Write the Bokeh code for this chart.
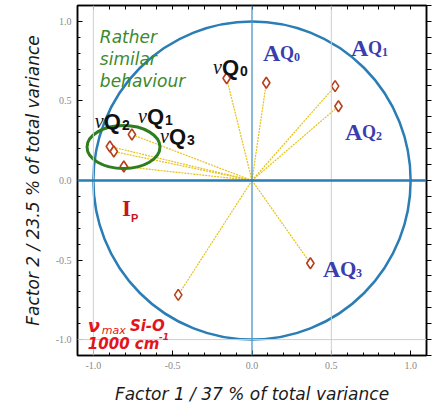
from bokeh.plotting import figure
from bokeh.models import (Range1d, LinearAxis, FixedTicker, Span, Label, ColumnDataSource,
                          PrintfTickFormatter)
from bokeh.embed import file_html
from bokeh.resources import INLINE

# ---- data ----
var_names = ["νQ1", "νQ2", "νQ2'", "νQ3", "νQ0", "AQ0", "AQ1", "AQ2", "AQ3", "νmax Si-O"]
factor1 = [-0.757, -0.896, -0.871, -0.808, -0.160, 0.090, 0.524, 0.545, 0.368, -0.465]
factor2 = [0.289, 0.214, 0.182, 0.088, 0.643, 0.614, 0.593, 0.467, -0.520, -0.719]
major_ticks = [-1.0, -0.5, 0.0, 0.5, 1.0]
minor_ticks = [round(-1.1 + 0.1 * i, 2) for i in range(23)]
x_title = "Factor 1 / 37 % of total variance"
y_title = "Factor 2 / 23.5 % of total variance"

src = ColumnDataSource(dict(name=var_names, f1=factor1, f2=factor2))

p = figure(width=432, height=412,
           x_range=Range1d(-1.10, 1.10), y_range=Range1d(-1.10, 1.10),
           output_backend="svg", toolbar_location=None,
           min_border_left=77, min_border_right=6, min_border_top=5, min_border_bottom=57)
p.grid.visible = False
p.outline_line_color = "black"
p.outline_line_width = 1.5
p.background_fill_color = "white"

def style_axis(ax, tick_in, tick_out):
    ax.axis_line_color = "black"
    ax.axis_line_width = 1.5
    ax.major_tick_in = tick_in
    ax.major_tick_out = tick_out
    ax.minor_tick_in = 3 if tick_in else 0
    ax.minor_tick_out = 0 if tick_in else 3
    ax.major_tick_line_color = "black"
    ax.minor_tick_line_color = "black"

for ax in (p.xaxis[0], p.yaxis[0]):
    ax.ticker = FixedTicker(ticks=major_ticks, minor_ticks=minor_ticks)
    ax.formatter = PrintfTickFormatter(format="%.1f")
    style_axis(ax, 5, 0)
    ax.major_label_text_font = "Liberation Serif"
    ax.major_label_text_font_size = "10px"
    ax.major_label_text_color = "#8a8a8a"
    ax.major_label_standoff = 6
    ax.axis_label_text_font = "DejaVu Sans"
    ax.axis_label_text_font_style = "italic"
    ax.axis_label_text_font_size = "17px"
    ax.axis_label_text_color = "#1a1a1a"
p.xaxis[0].axis_label = x_title
p.yaxis[0].axis_label = y_title
p.xaxis[0].axis_label_standoff = 12
p.yaxis[0].axis_label_standoff = 10

# top and right frame ticks (no labels)
top = LinearAxis(ticker=FixedTicker(ticks=[], minor_ticks=minor_ticks))
style_axis(top, 4, 0)
top.minor_tick_in = 4
p.add_layout(top, "above")
right = LinearAxis(ticker=FixedTicker(ticks=[], minor_ticks=minor_ticks))
style_axis(right, 0, 5)
right.minor_tick_out = 5
p.add_layout(right, "right")

# reference lines
for loc in (-1.0, 0.5):
    p.add_layout(Span(location=loc, dimension="height", line_color="#cfcfcf", line_width=1))
p.add_layout(Span(location=-1.0, dimension="width", line_color="#cfcfcf", line_width=1))
p.add_layout(Span(location=0, dimension="height", line_color="#4d97c6", line_width=1.3))
p.add_layout(Span(location=0, dimension="width", line_color="#2a7db5", line_width=2.5))

# correlation circle
p.ellipse(x=0, y=0, width=2, height=2, fill_color=None, line_color="#2a7db5", line_width=2.5)

# vectors
p.segment(x0=0, y0=0, x1="f1", y1="f2", source=src, line_color="#e6c21a",
          line_width=1.2, line_dash="2 1")
p.scatter("f1", "f2", source=src, marker="diamond", size=11, fill_color="white",
          line_color="#b8401c", line_width=1.6)

# green ellipse
p.ellipse(x=-0.81, y=0.21, width=0.46, height=0.27, fill_color=None,
          line_color="#2e7d1f", line_width=3)

def px2x(px):
    return (px - 252) / 158.5

def px2y(py):
    return (180 - py) / 159

def lab(xp, yp, text, size, color, font="Liberation Serif", style="normal"):
    p.add_layout(Label(x=px2x(xp), y=px2y(yp), text=text, text_font=font,
                       text_font_size=f"{size}px", text_color=color,
                       text_font_style=style, text_baseline="alphabetic",
                       text_align="left"))

green = "#3b8a2c"
lab(100, 37, "Rather", 17, green, "DejaVu Sans", "italic")
lab(100, 59, "similar", 17, green, "DejaVu Sans", "italic")
lab(100, 81, "behaviour", 17, green, "DejaVu Sans", "italic")

# nu Q labels
for (x0, b, sub) in [(95, 121, "2"), (138, 116, "1"), (160, 136, "3"), (213, 67, "0")]:
    lab(x0, b, "ν", 20, "#111111", "Liberation Serif", "italic")
    lab(x0 + 9, b, "Q", 22, "#111111", "Liberation Sans", "bold")
    lab(x0 + 27, b + 4, sub, 14, "#111111", "Liberation Sans", "bold")

blue = "#3a3db0"
for (x0, b, sub, qs) in [(263, 53, "0", 18), (351, 48, "1", 18), (345, 132, "2", 18), (323, 268, "3", 21)]:
    lab(x0, b, "A", 24, blue, "Liberation Serif", "bold")
    lab(x0 + 17, b, "Q", qs, blue, "Liberation Serif", "bold")
    lab(x0 + 17 + int(qs * 0.78), b + 4, sub, 12, blue, "Liberation Serif", "bold")

red = "#c8141c"
lab(122, 208, "I", 23, red, "Liberation Serif", "bold")
lab(131, 217, "P", 11, red, "Liberation Sans", "bold")

red2 = "#e0161c"
lab(88, 325, "ν", 18, red2, "DejaVu Sans", "bold italic")
lab(102, 330, "max", 11, red2, "DejaVu Sans", "italic")
lab(130, 325, "Si-O", 15, red2, "DejaVu Sans", "bold italic")
lab(88, 343, "1000 cm", 15, red2, "DejaVu Sans", "bold italic")
lab(159, 336, "-1", 9, red2, "DejaVu Sans", "bold italic")

open("out.html", "w").write(file_html(p, INLINE))
